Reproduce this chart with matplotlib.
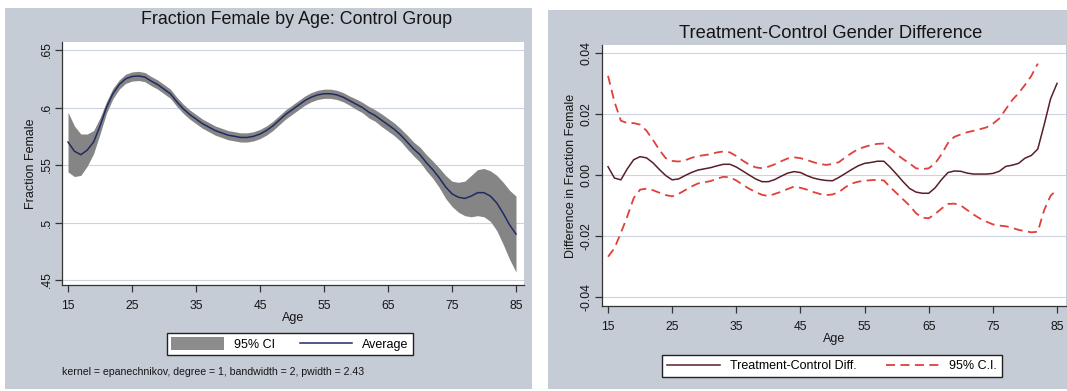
import numpy as np
import matplotlib
matplotlib.use("Agg")
import matplotlib.pyplot as plt
from matplotlib.patches import Rectangle, Patch
from matplotlib.lines import Line2D

plt.rcParams["font.family"] = ["Liberation Sans", "DejaVu Sans"]

# ---- data -------------------------------------------------------------
ages = list(range(15, 86))

# fraction female in the control group (local-linear smooth)
avg_female = [
    .570, .562, .559, .563, .570, .584, .600, .612, .620, .625,
    .627, .6275, .6265, .623, .620, .616, .612, .605, .599, .594,
    .590, .586, .583, .580, .578, .576, .575, .574, .574, .575,
    .577, .580, .584, .589, .594, .598, .602, .606, .609, .611,
    .612, .612, .611, .609, .606, .603, .600, .596, .593, .589,
    .585, .581, .576, .570, .564, .559, .552, .546, .539, .531,
    .525, .522, .521, .523, .526, .526, .523, .517, .508, .498,
    .490,
]
# half-width of the 95% confidence band, ages 15..85
ci_half = [
    .026, .022, .018, .014, .010, .007, .005, .0045,            # 15-22
    .004, .004, .004, .004, .004, .004, .004, .004, .004, .004,  # 23-32
    .004, .004, .004, .004, .004, .004, .004, .004, .004, .004,  # 33-42
    .004, .004, .004, .004, .004, .004, .004, .004, .004, .004,  # 43-52
    .004, .004, .004, .004, .004, .004, .004,                    # 53-59
    .0045, .0045, .005, .005, .0055, .0055, .0055, .0055,        # 60-67
    .006, .006, .0065, .007, .0075, .0085,                       # 68-73
    .010, .011, .013, .015, .018, .020, .021, .022, .024, .027,  # 74-83
    .030, .033,                                                  # 84-85
]

# treatment minus control difference and its 95% C.I.
diff = [
    .0027, -.0010, -.0016, .0020, .0050, .0060, .0056, .0040, .0018, -.0002,
    -.0016, -.0013, -.0002, .0008, .0016, .0020, .0024, .0030, .0035, .0035,
    .0026, .0013, .0000, -.0013, -.0022, -.0022, -.0015, -.0004, .0006, .0011,
    .0008, -.0002, -.0010, -.0015, -.0018, -.0019, -.0008, .0005, .0018, .0030,
    .0038, .0041, .0045, .0045, .0025, .0002, -.0022, -.0044, -.0056, -.0060,
    -.0060, -.0042, -.0015, .0008, .0013, .0012, .0006, .0003, .0003, .0003,
    .0005, .0012, .0028, .0032, .0038, .0055, .0064, .0085, .0165, .0250,
    .0300,
]
ages_upper = list(range(15, 83))
ci_upper = [
    .0325, .0240, .0178, .0170, .0170, .0165, .0145, .0115, .0082, .0055,
    .0046, .0044, .0048, .0056, .0062, .0065, .0068, .0074, .0077, .0074,
    .0062, .0047, .0034, .0025, .0022, .0027, .0035, .0045, .0054, .0058,
    .0055, .0049, .0042, .0036, .0033, .0036, .0042, .0058, .0072, .0085,
    .0092, .0098, .0102, .0103, .0085, .0068, .0052, .0038, .0022, .0019,
    .0022, .0038, .0068, .0105, .0125, .0133, .0140, .0145, .0150, .0156,
    .0168, .0185, .0215, .0245, .0268, .0295, .0325, .0365,
]
ci_lower = [
    -.0268, -.0240, -.0190, -.0136, -.0076, -.0048, -.0045, -.0050, -.0058, -.0066,
    -.0070, -.0062, -.0050, -.0038, -.0028, -.0024, -.0020, -.0012, -.0006, -.0008,
    -.0018, -.0032, -.0045, -.0056, -.0065, -.0069, -.0062, -.0055, -.0046, -.0038,
    -.0042, -.0048, -.0056, -.0062, -.0066, -.0064, -.0056, -.0040, -.0028, -.0022,
    -.0019, -.0017, -.0016, -.0018, -.0040, -.0060, -.0080, -.0100, -.0125, -.0140,
    -.0142, -.0128, -.0110, -.0095, -.0094, -.0100, -.0115, -.0130, -.0143, -.0153,
    -.0162, -.0166, -.0168, -.0173, -.0180, -.0184, -.0188, -.0186, -.0115, -.0068,
    -.0048,
]

x_ticks = [15, 25, 35, 45, 55, 65, 75, 85]
left_yticks = [.45, .5, .55, .6, .65]
left_ylabels = [".45", ".5", ".55", ".6", ".65"]
right_yticks = [-.04, -.02, 0.0, .02, .04]
right_ylabels = ["-0.04", "-0.02", "0.00", "0.02", "0.04"]

# ---- styling ----------------------------------------------------------
W, H = 1067, 391
PANEL_BG = "#c6ccd6"
GRID = "#cdd3e0"
INK = "#151515"
BAND = "#858585"
NAVY = "#1f2b62"
MAROON = "#5a1e28"
RED = "#e0403c"

fig = plt.figure(figsize=(W / 100, H / 100), dpi=100)
fig.patch.set_facecolor("white")


def px_rect(x0, y0, x1, y1):
    return [x0 / W, 1 - y1 / H, (x1 - x0) / W, (y1 - y0) / H]


for (x0, y0, x1, y1) in [(5, 8, 532, 389), (548, 10, 1067, 389)]:
    fig.patches.append(Rectangle((x0 / W, 1 - y1 / H), (x1 - x0) / W, (y1 - y0) / H,
                                 transform=fig.transFigure, facecolor=PANEL_BG,
                                 edgecolor="none", zorder=-10))


def style_axes(ax):
    ax.set_zorder(2)
    ax.set_facecolor("white")
    for s in ("top", "right"):
        ax.spines[s].set_visible(False)
    for s in ("left", "bottom"):
        ax.spines[s].set_color("#333333")
        ax.spines[s].set_linewidth(0.9)
    ax.tick_params(direction="out", length=5, width=0.9, color="#333333",
                   labelsize=8.7, labelcolor=INK)
    ax.tick_params(axis="y", pad=1.5)
    ax.tick_params(axis="x", pad=6)
    ax.grid(axis="y", color=GRID, linewidth=0.8)
    ax.set_axisbelow(True)
    ax.set_xticks(x_ticks)


# ---- left panel: fraction female by age -------------------------------
ax1 = fig.add_axes(px_rect(62, 42, 524, 285))
style_axes(ax1)
a = np.array(ages, dtype=float)
m = np.array(avg_female)
h = np.array(ci_half)
ax1.fill_between(a, m - h, m + h, color=BAND, linewidth=0, zorder=2)
ax1.plot(a, m, color=NAVY, linewidth=1.1, zorder=3)
ax1.set_xlim(14.06, 86.25)
ax1.set_ylim(.4457, .657)
ax1.set_yticks(left_yticks)
ax1.set_yticklabels(left_ylabels, rotation=90, va="center")
ax1.set_xlabel("Age", fontsize=9, color=INK, labelpad=0)
ax1.set_ylabel("Fraction Female", fontsize=9, color=INK, labelpad=3)

fig.text(297 / W, 1 - 19 / H, "Fraction Female by Age: Control Group",
         ha="center", va="center", fontsize=12.9, color=INK)

fig.legend(handles=[Patch(facecolor="#8c8c8c", edgecolor="none", label="95% CI"),
                    Line2D([], [], color=NAVY, linewidth=1.1, label="Average")],
           loc="center", bbox_to_anchor=(290 / W, 1 - 344 / H), ncol=2,
           frameon=True, fancybox=False, edgecolor="#222222", framealpha=1,
           fontsize=9, handlelength=4.2, handleheight=1.2, columnspacing=2.0,
           borderpad=0.35, handletextpad=0.8)

fig.text(62 / W, 1 - 372 / H,
         "kernel = epanechnikov, degree = 1, bandwidth = 2, pwidth = 2.43",
         ha="left", va="center", fontsize=7.6, color=INK)

# ---- right panel: treatment-control difference ------------------------
ax2 = fig.add_axes(px_rect(602, 45, 1066, 306))
style_axes(ax2)
ax2.plot(ages, diff, color=MAROON, linewidth=1.1, zorder=3)
ax2.plot(ages_upper, ci_upper, color=RED, linewidth=1.3, dashes=(5, 3), zorder=3)
ax2.plot(ages, ci_lower, color=RED, linewidth=1.3, dashes=(5, 3), zorder=3)
ax2.set_xlim(14.06, 86.4)
ax2.set_ylim(-.04295, .0426)
ax2.set_yticks(right_yticks)
ax2.set_yticklabels(right_ylabels, rotation=90, va="center")
ax2.set_xlabel("Age", fontsize=9, color=INK, labelpad=0)
ax2.set_ylabel("Difference in Fraction Female", fontsize=9, color=INK, labelpad=3)

fig.text(831 / W, 1 - 33 / H, "Treatment-Control Gender Difference",
         ha="center", va="center", fontsize=13.2, color=INK)

fig.legend(handles=[Line2D([], [], color=MAROON, linewidth=1.1,
                           label="Treatment-Control Diff."),
                    Line2D([], [], color=RED, linewidth=1.3, dashes=(5, 3),
                           label="95% C.I.")],
           loc="center", bbox_to_anchor=(832 / W, 1 - 366 / H), ncol=2,
           frameon=True, fancybox=False, edgecolor="#222222", framealpha=1,
           fontsize=9, handlelength=4.2, columnspacing=2.4,
           borderpad=0.4, handletextpad=0.8)

fig.savefig("out.png", dpi=100, facecolor="white")
